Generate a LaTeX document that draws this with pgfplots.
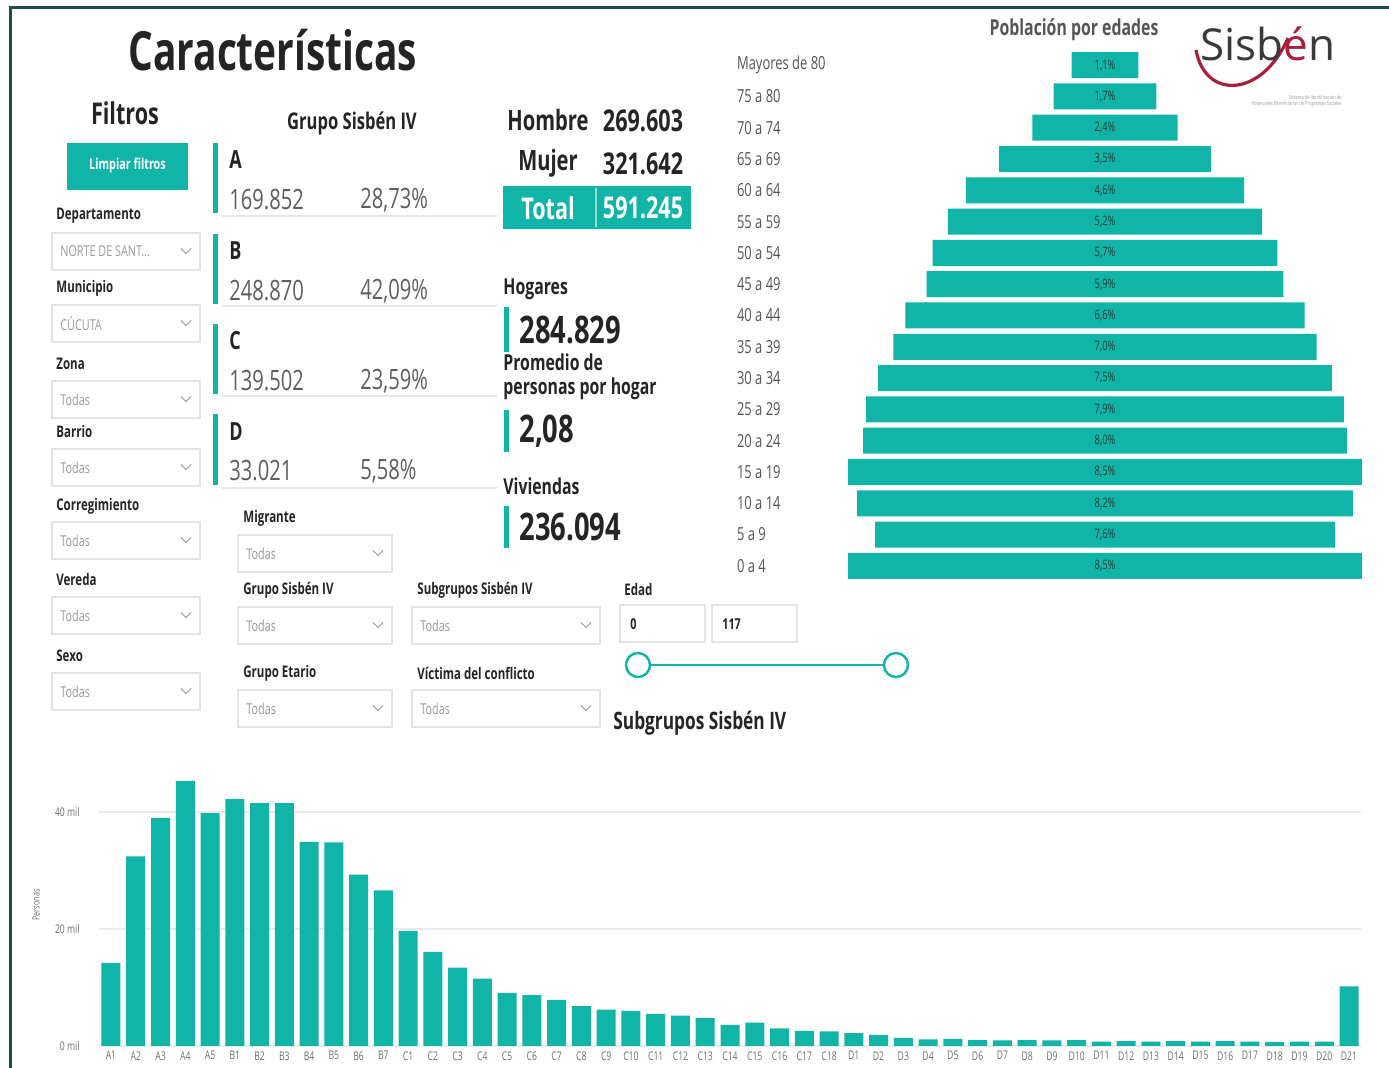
\documentclass[border=0pt]{standalone}
\usepackage{pgfplots}
\usepackage{pgfplotstable}
\pgfplotsset{compat=1.18}
\usepackage{fontspec}
\setmainfont[FakeStretch=0.72]{Open Sans}
\newfontfamily\logofont{Open Sans}
\newcommand{\fs}[1]{\fontsize{#1}{#1}\selectfont}
\definecolor{pbteal}{HTML}{11B5A8}
\definecolor{txt}{HTML}{252423}
\definecolor{subc}{HTML}{605E5C}
\definecolor{lite}{HTML}{9A9A9A}
\definecolor{boxc}{HTML}{E4E4E4}
\definecolor{sepc}{HTML}{E6E6E6}
\definecolor{gridc}{HTML}{EAEAEA}
\definecolor{tickc}{HTML}{707070}
\definecolor{agec}{HTML}{555555}
\definecolor{framec}{HTML}{1E4D49}
\definecolor{logoc}{HTML}{3A3A3A}
\definecolor{logored}{HTML}{A8203A}

% Poblacion por edades (percent)
\pgfplotstableread{
y v
0 8.5
1 7.6
2 8.2
3 8.5
4 8.0
5 7.9
6 7.5
7 7.0
8 6.6
9 5.9
10 5.7
11 5.2
12 4.6
13 3.5
14 2.4
15 1.7
16 1.1
}\pyr

% Subgrupos Sisben IV (miles de personas)
\pgfplotstableread{
i v
0 14.2
1 32.4
2 39.0
3 45.3
4 39.8
5 42.2
6 41.5
7 41.5
8 34.9
9 34.8
10 29.3
11 26.6
12 19.7
13 16.1
14 13.4
15 11.5
16 9.1
17 8.7
18 7.9
19 6.8
20 6.2
21 6.0
22 5.5
23 5.2
24 4.8
25 3.6
26 4.0
27 3.0
28 2.6
29 2.5
30 2.2
31 1.9
32 1.4
33 1.15
34 1.2
35 1.0
36 0.95
37 1.0
38 0.95
39 1.0
40 0.75
41 0.85
42 0.75
43 0.85
44 0.75
45 0.85
46 0.75
47 0.65
48 0.75
49 0.75
50 10.2
}\sub

\newcommand{\dropdown}[5]{%
  \draw[line width=0.6pt, draw=boxc, fill=white] (#1,#2) rectangle (#3,#4);
  \node[anchor=west, font=\fs{7.5}, text=lite, inner sep=0] at ({#1+8},{(#2+#4)/2}) {#5};
  \draw[lite, line width=0.5pt] ({#3-19},{(#2+#4)/2-3}) -- ({#3-14},{(#2+#4)/2+2}) -- ({#3-9},{(#2+#4)/2-3});
}
\newcommand{\flabel}[3]{%
  \node[anchor=west, font=\bfseries\fs{8}, text=txt, inner sep=0] at (#1,#2) {#3};
}

\begin{document}
\begin{tikzpicture}
\begin{scope}[x=0.5pt,y=-0.5pt]
\path[use as bounding box] (0,0) rectangle (1389,1068);
\fill[white] (0,0) rectangle (1389,1068);
\draw[framec, line width=1.5pt] (10,1075) -- (10,8) -- (1395,8);

% title
\node[anchor=west, font=\bfseries\fs{27}, text=txt, inner sep=0] at (128,50) {Características};

% filtros
\node[font=\bfseries\fs{15}, text=txt, inner sep=0] at (125,113) {Filtros};
\fill[pbteal] (67,143) rectangle (188,190);
\node[font=\bfseries\fs{7.5}, text=white, inner sep=0] at (127.5,166) {Limpiar filtros};

\flabel{56}{216}{Departamento}
\dropdown{52}{233}{200}{270}{NORTE DE SANT...}
\flabel{56}{288}{Municipio}
\dropdown{52}{305}{200}{342}{CÚCUTA}
\flabel{56}{364}{Zona}
\dropdown{52}{381}{200}{418}{Todas}
\flabel{56}{432}{Barrio}
\dropdown{52}{449}{200}{486}{Todas}
\flabel{56}{506}{Corregimiento}
\dropdown{52}{522}{200}{559}{Todas}
\flabel{56}{580}{Vereda}
\dropdown{52}{597}{200}{634}{Todas}
\flabel{56}{656}{Sexo}
\dropdown{52}{673}{200}{710}{Todas}

% Grupo Sisben IV cards
\node[font=\bfseries\fs{11.5}, text=txt, inner sep=0] at (352,123) {Grupo Sisbén IV};
\fill[pbteal] (213,143) rectangle (218,213);
\node[anchor=west, font=\bfseries\fs{12.5}, text=txt, inner sep=0] at (229,160) {A};
\node[anchor=west, font=\fs{14}, text=subc, inner sep=0] at (229,200) {169.852};
\node[anchor=west, font=\fs{14}, text=subc, inner sep=0] at (360,200) {28,73\%};
\draw[sepc, line width=1pt] (222,216) -- (497,216);
\fill[pbteal] (213,234) rectangle (218,304);
\node[anchor=west, font=\bfseries\fs{12.5}, text=txt, inner sep=0] at (229,251) {B};
\node[anchor=west, font=\fs{14}, text=subc, inner sep=0] at (229,291) {248.870};
\node[anchor=west, font=\fs{14}, text=subc, inner sep=0] at (360,291) {42,09\%};
\draw[sepc, line width=1pt] (222,306) -- (497,306);
\fill[pbteal] (213,324) rectangle (218,394);
\node[anchor=west, font=\bfseries\fs{12.5}, text=txt, inner sep=0] at (229,341) {C};
\node[anchor=west, font=\fs{14}, text=subc, inner sep=0] at (229,381) {139.502};
\node[anchor=west, font=\fs{14}, text=subc, inner sep=0] at (360,381) {23,59\%};
\draw[sepc, line width=1pt] (222,396) -- (497,396);
\fill[pbteal] (213,414) rectangle (218,485);
\node[anchor=west, font=\bfseries\fs{12.5}, text=txt, inner sep=0] at (229,432) {D};
\node[anchor=west, font=\fs{14}, text=subc, inner sep=0] at (229,471) {33.021};
\node[anchor=west, font=\fs{14}, text=subc, inner sep=0] at (360,471) {5,58\%};
\draw[sepc, line width=1pt] (222,488) -- (497,488);

% Hombre / Mujer / Total
\node[font=\bfseries\fs{14}, text=txt, inner sep=0] at (548,120) {Hombre};
\node[font=\bfseries\fs{15}, text=txt, inner sep=0] at (643,121) {269.603};
\node[font=\bfseries\fs{14}, text=txt, inner sep=0] at (548,163) {Mujer};
\node[font=\bfseries\fs{15}, text=txt, inner sep=0] at (643,164) {321.642};
\fill[pbteal] (503,186) rectangle (691,229);
\draw[white!55!pbteal, line width=0.8pt] (596,188) -- (596,227);
\node[font=\bfseries\fs{15}, text=white, inner sep=0] at (548,208) {Total};
\node[font=\bfseries\fs{15}, text=white, inner sep=0] at (643,208) {591.245};

% Hogares etc
\node[anchor=west, font=\bfseries\fs{11}, text=txt, inner sep=0] at (503,289) {Hogares};
\fill[pbteal] (504,307) rectangle (509,352);
\node[anchor=west, font=\bfseries\fs{19}, text=txt, inner sep=0] at (519,330) {284.829};
\node[anchor=west, font=\bfseries\fs{11}, text=txt, inner sep=0] at (503,362) {Promedio de};
\node[anchor=west, font=\bfseries\fs{11}, text=txt, inner sep=0] at (503,389) {personas por hogar};
\fill[pbteal] (504,410) rectangle (509,452);
\node[anchor=west, font=\bfseries\fs{19}, text=txt, inner sep=0] at (519,431) {2,08};
\node[anchor=west, font=\bfseries\fs{11}, text=txt, inner sep=0] at (503,486) {Viviendas};
\fill[pbteal] (504,506) rectangle (509,548);
\node[anchor=west, font=\bfseries\fs{19}, text=txt, inner sep=0] at (519,527) {236.094};

% second filter group
\flabel{243}{518}{Migrante}
\dropdown{238}{535}{392}{572}{Todas}
\flabel{243}{590}{Grupo Sisbén IV}
\dropdown{238}{607}{392}{644}{Todas}
\flabel{417}{590}{Subgrupos Sisbén IV}
\dropdown{412}{607}{600}{644}{Todas}
\flabel{243}{673}{Grupo Etario}
\dropdown{238}{690}{392}{727}{Todas}
\flabel{417}{673}{Víctima del conflicto}
\dropdown{412}{690}{600}{727}{Todas}
\flabel{624}{590}{Edad}
\draw[line width=0.6pt, draw=boxc] (620,605) rectangle (705,642);
\draw[line width=0.6pt, draw=boxc] (712,605) rectangle (797,642);
\node[anchor=west, font=\bfseries\fs{7.5}, text=txt, inner sep=0] at (630,624) {0};
\node[anchor=west, font=\bfseries\fs{7.5}, text=txt, inner sep=0] at (722,624) {117};
\draw[pbteal, line width=1.2pt] (638,665) -- (896,665);
\draw[pbteal, line width=1.2pt, fill=white] (638,665) circle (12);
\draw[pbteal, line width=1.2pt, fill=white] (896,665) circle (12);

\node[anchor=west, font=\bfseries\fs{12}, text=txt, inner sep=0] at (613,723) {Subgrupos Sisbén IV};

% pyramid title + logo
\node[font=\bfseries\fs{11}, text=agec, inner sep=0] at (1074,30) {Población por edades};
\draw[logored, line width=1.6pt] (1196,50) .. controls (1205,100) and (1262,98) .. (1288,38);
\node[font=\logofont\fs{22}, text=logoc, inner sep=0] at (1268,44) {Sisb\textcolor{logored}{é}n};
\node[anchor=east, align=right, font=\fs{2.8}, text=lite, inner sep=0] at (1342,101) {Sistema de Identificación de\\Potenciales Beneficiarios de Programas Sociales};

% Personas label
\node[rotate=90, font=\fs{5}, text=tickc, inner sep=0] at (36,905) {Personas};
\end{scope}

% ---------- Pyramid ----------
\begin{axis}[at={(552.5pt,-157.75pt)}, anchor=center, scale only axis,
  width=257pt, height=266pt,
  xmin=-4.25, xmax=4.25, ymin=-0.5, ymax=16.5,
  axis line style={draw=none}, major tick length=0pt,
  /pgf/number format/assume math mode=true,
  xtick=\empty, ytick={0,...,16},
  yticklabels={0 a 4,5 a 9,10 a 14,15 a 19,20 a 24,25 a 29,30 a 34,35 a 39,40 a 44,45 a 49,50 a 54,55 a 59,60 a 64,65 a 69,70 a 74,75 a 80,Mayores de 80},
  yticklabel style={anchor=west, xshift=-59pt, font=\fs{9}, text=agec},
  clip=false]
\addplot[xbar, bar width=13pt, bar shift=0pt, fill=pbteal, draw=none] table[x expr=-\thisrow{v}/2, y=y]{\pyr};
\addplot[xbar, bar width=13pt, bar shift=0pt, fill=pbteal, draw=none] table[x expr=\thisrow{v}/2, y=y]{\pyr};
\addplot[draw=none, mark=none, point meta=explicit,
  nodes near coords={\pgfmathprintnumber[fixed,fixed zerofill,precision=1,use comma,assume math mode=true]{\pgfplotspointmeta}\%},
  nodes near coords style={anchor=center, font=\fs{6.5}, text=txt!85!pbteal}]
  table[x expr=0, y=y, meta=v]{\pyr};
\end{axis}

% ---------- Subgrupos bar chart ----------
\begin{axis}[at={(49.3pt,-523pt)}, anchor=south west, scale only axis,
  width=631.4pt, height=140.4pt,
  xmin=-0.5, xmax=50.5, ymin=0, ymax=48,
  axis line style={draw=none}, major tick length=0pt,
  xtick={0,...,50},
  xticklabels={A1,A2,A3,A4,A5,B1,B2,B3,B4,B5,B6,B7,C1,C2,C3,C4,C5,C6,C7,C8,C9,C10,C11,C12,C13,C14,C15,C16,C17,C18,D1,D2,D3,D4,D5,D6,D7,D8,D9,D10,D11,D12,D13,D14,D15,D16,D17,D18,D19,D20,D21},
  ytick={0,20,40}, yticklabels={0 mil,20 mil,40 mil},
  ymajorgrids, grid style={gridc, line width=0.8pt},
  xticklabel style={font=\fs{6}, text=tickc, inner sep=2.5pt},
  yticklabel style={font=\fs{6}, text=tickc, xshift=-6pt},
  clip=false]
\addplot[ybar, bar width=9.5pt, bar shift=0pt, fill=pbteal, draw=none] table[x=i, y=v]{\sub};
\end{axis}
\end{tikzpicture}
\end{document}
